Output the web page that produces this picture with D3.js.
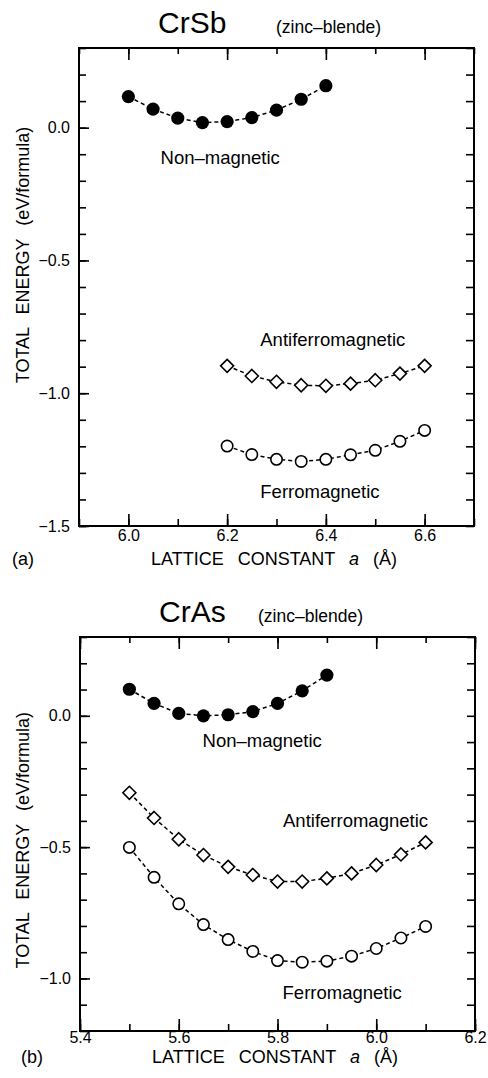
<!DOCTYPE html>
<html>
<head>
<meta charset="utf-8">
<script src="https://cdn.jsdelivr.net/npm/d3@7"></script>
<style>
  body { margin: 0; background: #fff; }
  svg { display: block; font-family: "Liberation Sans", Arial, Helvetica, sans-serif; }
</style>
</head>
<body>
<svg id="vis-svg" width="488" height="1078"></svg>
<script>
// data (eV/formula vs lattice constant in angstrom)
var sbNonMagA = [6.0, 6.05, 6.1, 6.15, 6.2, 6.25, 6.3, 6.35, 6.4];
var sbNonMag = [0.117, 0.070, 0.036, 0.019, 0.023, 0.038, 0.066, 0.107, 0.158];
var sbMagA = [6.2, 6.25, 6.3, 6.35, 6.4, 6.45, 6.5, 6.55, 6.6];
var sbAfm = [-0.897, -0.935, -0.957, -0.970, -0.972, -0.964, -0.951, -0.926, -0.897];
var sbFm = [-1.199, -1.231, -1.249, -1.257, -1.249, -1.232, -1.215, -1.181, -1.140];

var asNonMagA = [5.5, 5.55, 5.6, 5.65, 5.7, 5.75, 5.8, 5.85, 5.9];
var asNonMag = [0.101, 0.047, 0.009, 0.0, 0.004, 0.016, 0.047, 0.095, 0.155];
var asMagA = [5.5, 5.55, 5.6, 5.65, 5.7, 5.75, 5.8, 5.85, 5.9, 5.95, 6.0, 6.05, 6.1];
var asAfm = [-0.293, -0.389, -0.470, -0.530, -0.575, -0.606, -0.631, -0.631, -0.619, -0.600, -0.568, -0.528, -0.482];
var asFm = [-0.501, -0.615, -0.716, -0.795, -0.852, -0.897, -0.932, -0.938, -0.934, -0.915, -0.886, -0.846, -0.802];

var sbXTicks = [6.0, 6.2, 6.4, 6.6];
var sbYTicks = [0.0, -0.5, -1.0, -1.5];
var asXTicks = [5.4, 5.6, 5.8, 6.0, 6.2];
var asYTicks = [0.0, -0.5, -1.0];

var seriesNames = ["Non\u2013magnetic", "Antiferromagnetic", "Ferromagnetic"];

var svg = d3.select("#vis-svg");
var fmt = d3.format(".1f");

function zip(xs, ys) {
  return xs.map(function(v, i) { return {a: v, e: ys[i]}; });
}

function drawPanel(p) {
  var x = d3.scaleLinear().domain(p.xDomain).range([p.left, p.right]);
  var y = d3.scaleLinear().domain(p.yDomain).range([p.bottom, p.top]);
  var g = svg.append("g");

  var xMinor = d3.range(Math.round(p.xDomain[0] * 10), Math.round(p.xDomain[1] * 10) + 1).map(function(d) { return d / 10; });
  var yMinor = d3.range(Math.round(p.yDomain[0] * 10), Math.round(p.yDomain[1] * 10) + 1).map(function(d) { return d / 10; });

  function axis(gen, tr, vals, size, labels) {
    var a = g.append("g").attr("transform", tr)
      .call(gen.tickValues(vals).tickSize(-size).tickPadding(labels ? labels.pad : 0)
        .tickFormat(labels ? fmt : ""));
    a.select(".domain").remove();
    a.selectAll("line").attr("stroke", "#000").attr("stroke-width", 1.6);
    a.selectAll("text").attr("fill", "#000").style("font-size", "16px");
    return a;
  }

  // bottom
  axis(d3.axisBottom(x), "translate(0," + p.bottom + ")", xMinor, 7);
  axis(d3.axisBottom(x), "translate(0," + p.bottom + ")", p.xTicks, 12, {pad: p.xPad});
  // top
  axis(d3.axisTop(x), "translate(0," + p.top + ")", xMinor, 6);
  axis(d3.axisTop(x), "translate(0," + p.top + ")", p.xTicks, 12);
  // left
  axis(d3.axisLeft(y), "translate(" + p.left + ",0)", yMinor, 7);
  axis(d3.axisLeft(y), "translate(" + p.left + ",0)", p.yTicks, 10, {pad: 9});
  // right
  axis(d3.axisRight(y), "translate(" + p.right + ",0)", yMinor, 8);

  g.append("rect")
    .attr("x", p.left).attr("y", p.top)
    .attr("width", p.right - p.left).attr("height", p.bottom - p.top)
    .attr("fill", "none").attr("stroke", "#000").attr("stroke-width", 2);

  var line = d3.line().x(function(d) { return x(d.a); }).y(function(d) { return y(d.e); });

  p.series.forEach(function(s) {
    var pts = zip(s.a, s.e);
    g.append("path").datum(pts)
      .attr("d", line)
      .attr("fill", "none").attr("stroke", "#000")
      .attr("stroke-width", 1.5).attr("stroke-dasharray", "4,3");

    if (s.shape === "diamond") {
      g.selectAll(null).data(pts).enter().append("path")
        .attr("d", "M0,-6.5L6.5,0L0,6.5L-6.5,0Z")
        .attr("transform", function(d) { return "translate(" + x(d.a) + "," + y(d.e) + ")"; })
        .attr("fill", "#fff").attr("stroke", "#000").attr("stroke-width", 1.6);
    } else {
      g.selectAll(null).data(pts).enter().append("circle")
        .attr("cx", function(d) { return x(d.a); })
        .attr("cy", function(d) { return y(d.e); })
        .attr("r", s.filled ? 6.6 : 5.7)
        .attr("fill", s.filled ? "#000" : "#fff")
        .attr("stroke", "#000").attr("stroke-width", s.filled ? 0 : 1.6);
    }

    g.append("text")
      .attr("x", x(s.label[0])).attr("y", y(s.label[1]))
      .attr("text-anchor", "middle")
      .style("font-size", "18.5px")
      .text(s.name);
  });

  // titles
  g.append("text").attr("x", p.left + 79).attr("y", p.top - 15)
    .style("font-size", "30px").text(p.compound);
  g.append("text").attr("x", p.left + p.subDx).attr("y", p.top - 15)
    .style("font-size", "17.5px").text("(zinc\u2013blende)");

  var xt = g.append("text").attr("x", p.left + 72).attr("y", p.bottom + p.xTitleDy)
    .style("font-size", "18px").style("word-spacing", "9px");
  xt.append("tspan").text("LATTICE CONSTANT ");
  xt.append("tspan").style("font-style", "italic").text("a");
  xt.append("tspan").text(" (\u00c5)");

  g.append("text").attr("x", p.tagX).attr("y", p.bottom + p.xTitleDy)
    .style("font-size", "18px").text(p.tag);

  g.append("text")
    .attr("transform", "translate(29," + (y(-1.0) - 10) + ") rotate(-90)")
    .style("font-size", "18px").style("word-spacing", "8px")
    .text("TOTAL ENERGY (eV/formula)");
}

drawPanel({
  compound: "CrSb", tag: "(a)", tagX: 12, subDx: 197, xTitleDy: 39, xPad: 4,
  left: 79, right: 474, top: 48, bottom: 526,
  xDomain: [5.9, 6.7], yDomain: [-1.5, 0.3],
  xTicks: sbXTicks, yTicks: sbYTicks,
  series: [
    {a: sbNonMagA, e: sbNonMag, filled: true, name: seriesNames[0], label: [6.186, -0.137]},
    {a: sbMagA, e: sbAfm, shape: "diamond", name: seriesNames[1], label: [6.414, -0.822]},
    {a: sbMagA, e: sbFm, filled: false, name: seriesNames[2], label: [6.388, -1.396]}
  ]
});

drawPanel({
  compound: "CrAs", tag: "(b)", tagX: 21, subDx: 178, xTitleDy: 32, xPad: 1,
  left: 80, right: 475, top: 637, bottom: 1031,
  xDomain: [5.4, 6.2], yDomain: [-1.2, 0.3],
  xTicks: asXTicks, yTicks: asYTicks,
  series: [
    {a: asNonMagA, e: asNonMag, filled: true, name: seriesNames[0], label: [5.769, -0.120]},
    {a: asMagA, e: asAfm, shape: "diamond", name: seriesNames[1], label: [5.958, -0.423]},
    {a: asMagA, e: asFm, filled: false, name: seriesNames[2], label: [5.931, -1.080]}
  ]
});
</script>
</body>
</html>
